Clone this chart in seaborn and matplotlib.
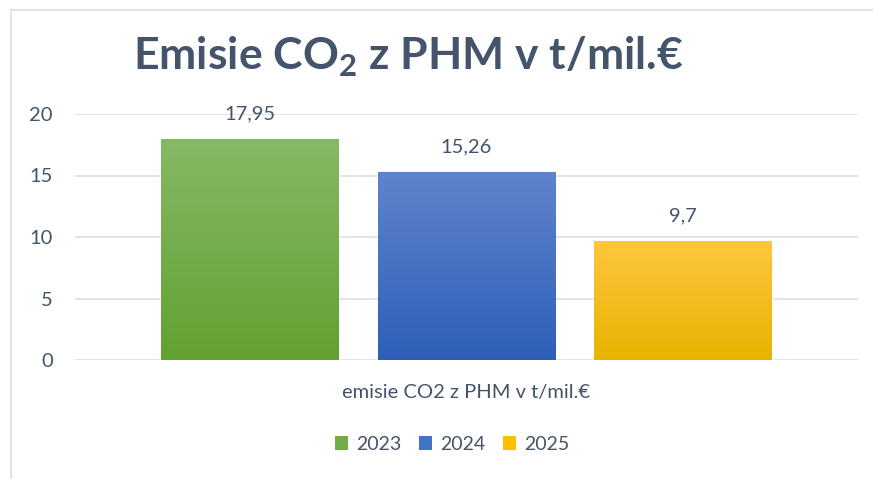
import numpy as np
import pandas as pd
import matplotlib
matplotlib.use("Agg")
import matplotlib.pyplot as plt
import matplotlib.colors as mcolors
from matplotlib.lines import Line2D
from matplotlib.patches import Patch
import seaborn as sns

# ---- data ----
category = ["emisie CO2 z PHM v t/mil.€"]
years = ["2023", "2024", "2025"]
values = [17.95, 15.26, 9.7]
value_labels = ["17,95", "15,26", "9,7"]
y_ticks = [0, 5, 10, 15, 20]
title_text = r"Emisie CO$_\mathbf{2}$ z PHM v t/mil.€"

top_colors = ["#86b964", "#6084cc", "#ffc63f"]
bot_colors = ["#61a131", "#2e5fb8", "#e8b300"]
mid_colors = ["#70ad47", "#4472c4", "#ffc000"]
text_color = "#44546a"
grid_color = "#dde1e6"

df = pd.DataFrame({"cat": category * len(years), "year": years, "value": values})

sns.set_theme(style="white")
plt.rcParams["font.family"] = ["Lato", "DejaVu Sans"]
plt.rcParams["mathtext.fontset"] = "custom"
plt.rcParams["mathtext.rm"] = "Lato:bold"
plt.rcParams["mathtext.bf"] = "Lato:bold"

fig = plt.figure(figsize=(8.73, 4.79), dpi=100)
fig.patch.set_facecolor("white")
ax = fig.add_axes([75 / 873, 1 - 360 / 479, (858 - 75) / 873, (360 - 114) / 479])

sns.barplot(data=df, x="cat", y="value", hue="year", palette=mid_colors,
            width=0.83, gap=0.18, ax=ax, legend=False, zorder=3)

ax.set_ylim(0, 20)
ax.set_yticks(y_ticks)
ax.set_yticklabels([str(t) for t in y_ticks])
ax.yaxis.grid(True, color=grid_color, linewidth=1.3, zorder=0)
ax.set_axisbelow(True)
for s in ax.spines.values():
    s.set_visible(False)
ax.tick_params(axis="y", length=0, pad=16, labelsize=14.5, labelcolor=text_color)
ax.tick_params(axis="x", length=0, pad=17, labelsize=14.5, labelcolor=text_color)
ax.set_xlabel("")
ax.set_ylabel("")
xl = ax.get_xlim()

# gradient fills and labels
patches = sorted(ax.patches, key=lambda p: p.get_x())
for p, tc, bc, lab in zip(patches, top_colors, bot_colors, value_labels):
    x0, w, h = p.get_x(), p.get_width(), p.get_height()
    cmap = mcolors.LinearSegmentedColormap.from_list("g", [bc, tc])
    grad = np.linspace(0, 1, 256).reshape(-1, 1)
    im = ax.imshow(grad, cmap=cmap, aspect="auto", origin="lower",
                   extent=[x0, x0 + w, 0, h], zorder=3.5)
    im.set_clip_path(p)
    ax.annotate(lab, (x0 + w / 2, h), xytext=(0, 12), textcoords="offset points",
                ha="center", va="bottom", fontsize=14.5, color=text_color)
ax.set_xlim(xl)
ax.set_ylim(0, 20)

# title
fig.text(408 / 873, 1 - 57 / 479, title_text, ha="center", va="center",
         fontsize=32, fontweight="bold", color=text_color)

# legend
handles = [Patch(facecolor=c, edgecolor="none") for c in mid_colors]
fig.legend(handles, years, loc="center", bbox_to_anchor=(452 / 873, 1 - 444 / 479),
           ncol=3, frameon=False, fontsize=14, labelcolor=text_color,
           handlelength=0.7, handleheight=0.7, handletextpad=0.4, columnspacing=0.9)

# chart border
fig.add_artist(Line2D([10.5 / 873, 10.5 / 873], [0, 1 - 9.5 / 479],
                      transform=fig.transFigure, color="#dfe3ea", lw=1.5))
fig.add_artist(Line2D([10.5 / 873, 1], [1 - 9.5 / 479, 1 - 9.5 / 479],
                      transform=fig.transFigure, color="#dfe3ea", lw=1.5))

fig.savefig("out.png", dpi=100)
